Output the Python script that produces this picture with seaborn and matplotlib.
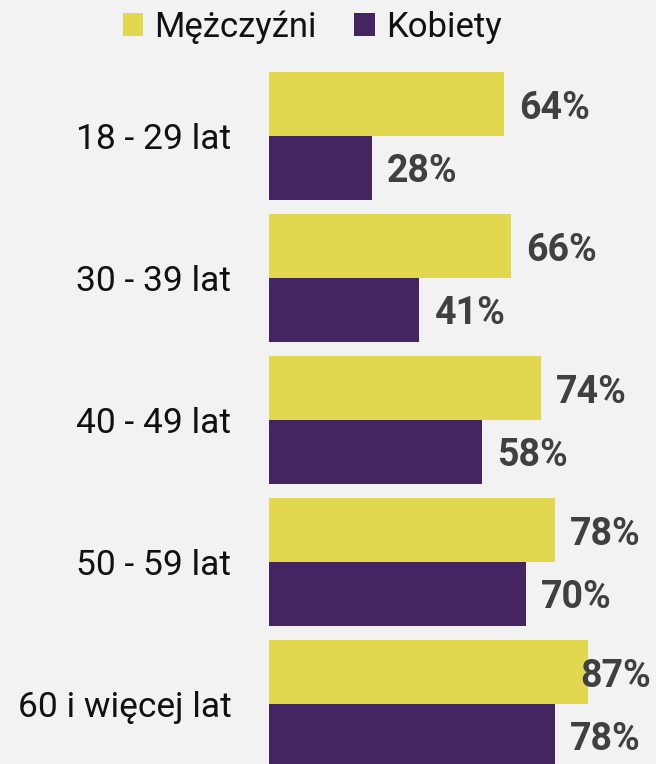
import matplotlib
matplotlib.use("Agg")
import matplotlib.pyplot as plt
import seaborn as sns
import pandas as pd
from matplotlib.patches import Patch

categories = ["18 - 29 lat", "30 - 39 lat", "40 - 49 lat", "50 - 59 lat", "60 i więcej lat"]
men = [64, 66, 74, 78, 87]
women = [28, 41, 58, 70, 78]
series_names = ["Mężczyźni", "Kobiety"]
colors = ["#e2d850", "#452462"]
bg = "#f2f2f2"

df = pd.DataFrame({
    "cat": categories * 2,
    "val": men + women,
    "series": [series_names[0]] * len(categories) + [series_names[1]] * len(categories),
})

sns.set_theme(style="white")
plt.rcParams["font.family"] = ["Roboto", "DejaVu Sans"]

W, H = 656, 764
dpi = 100
fig = plt.figure(figsize=(W / dpi, H / dpi), dpi=dpi, facecolor=bg)

x0_px = 269
px_per_unit = 3.67
ax_left = x0_px / W
ax_top_px = 65
ax = fig.add_axes([ax_left, 0, 1 - ax_left, (H - ax_top_px) / H])
ax.set_facecolor(bg)

sns.barplot(data=df, y="cat", x="val", hue="series", orient="h",
            palette=colors, width=0.9, linewidth=0, saturation=1,
            ax=ax, legend=False)

xmax = (W - x0_px) / px_per_unit
ax.set_xlim(0, xmax)
ax.set_ylim(4.5 - 11 / 142, -0.5)

for s in ax.spines.values():
    s.set_visible(False)
ax.set_xticks([])
ax.set_xlabel("")
ax.set_ylabel("")
ax.tick_params(axis="y", length=0, pad=27, labelsize=25.5, labelcolor="#111111")

pad_units = 15 / px_per_unit
label_w_units = 67 / px_per_unit
right_limit = (651 - x0_px) / px_per_unit
dy = 4 / 142
for i in range(len(categories)):
    for j, vals in enumerate([men, women]):
        v = vals[i]
        y = i - 0.225 + 0.45 * j + dy
        x = v + pad_units
        ha = "left"
        if x + label_w_units > right_limit:
            x = right_limit
            ha = "right"
        ax.text(x, y, f"{v}%", ha=ha, va="center", fontsize=27,
                fontweight="bold", color="#404040", clip_on=False)

handles = [Patch(facecolor=c, edgecolor="none", label=n) for c, n in zip(colors, series_names)]
fig.legend(handles=handles, loc="center", bbox_to_anchor=(312 / W, 1 - 27 / H),
           ncol=2, frameon=False, fontsize=25, handlelength=0.6, handleheight=0.6,
           handletextpad=0.3, columnspacing=1.1, labelcolor="#111111")

fig.savefig("out.png", dpi=dpi, facecolor=bg)
